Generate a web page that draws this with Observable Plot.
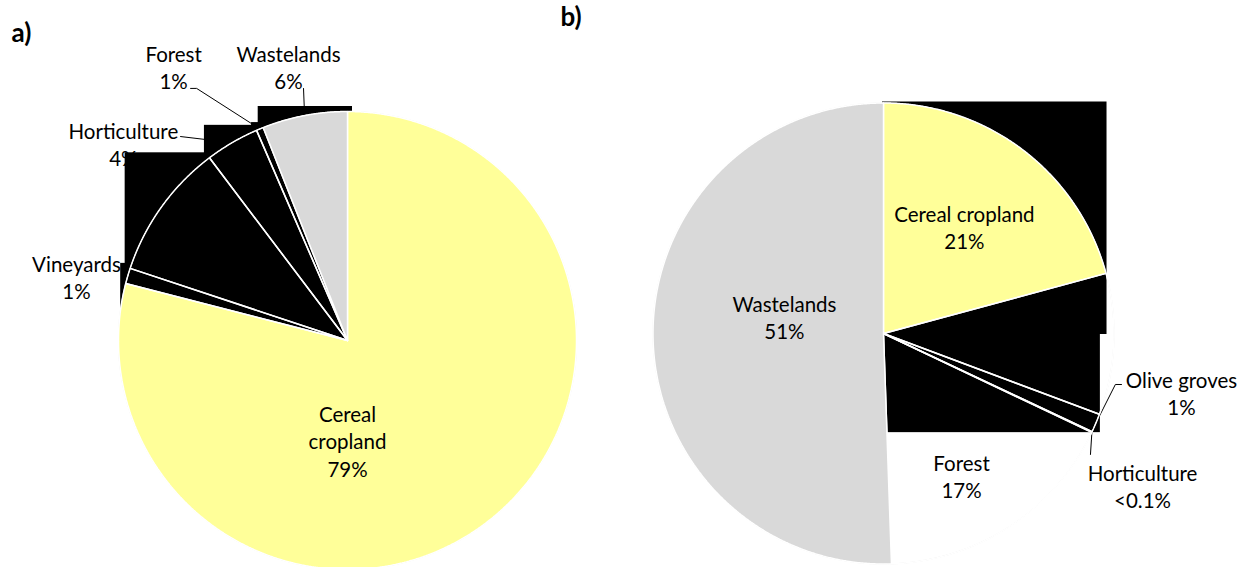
<!DOCTYPE html>
<html><head><meta charset="utf-8">
<script src="https://cdn.jsdelivr.net/npm/d3@7"></script>
<script src="https://cdn.jsdelivr.net/npm/@observablehq/plot@0.6"></script>
<style>
html,body{margin:0;padding:0;background:#fff;}
#wrap{position:relative;width:1250px;height:567px;overflow:hidden;font-family:Lato,sans-serif;}
#wrap svg{position:absolute;top:0;}
</style></head><body><div id="wrap"></div>
<script>
// ---- data ----
const categories = ["Cereal cropland","Vineyards","Olive groves","Horticulture","Forest","Wastelands"];
const sharesA = [79, 1.1, 9.6, 3.8, 0.5, 6.0];
const sharesB = [20.8, 9.9, 1.3, 0.05, 17.4, 50.55];
const labelsA = ["Cereal\ncropland\n79%","Vineyards\n1%","","Horticulture\n4%","Forest\n1%","Wastelands\n6%"];
const labelsB = ["Cereal cropland\n21%","","Olive groves\n1%","Horticulture\n<0.1%","Forest\n17%","Wastelands\n51%"];
const panelTitles = ["a)","b)"];

// ---- styling ----
const fillOf = {"Cereal cropland":"#ffff99","Wastelands":"#d9d9d9"};
const FONT = "Lato, 'Open Sans', sans-serif";
const FS = 20.5;

const rad = d => d*Math.PI/180;
const polar = (deg, r) => ({x: r*Math.sin(rad(deg)), y: r*Math.cos(rad(deg))});

function buildSlices(shares, labels){
  const total = d3.sum(shares);
  let acc = 0;
  return categories.map((c,i)=>{
    const a0 = acc/total*2*Math.PI; acc += shares[i]; const a1 = acc/total*2*Math.PI;
    const pts = [{x:0,y:0}];
    const n = Math.max(2, Math.ceil((a1-a0)/(Math.PI/720)));
    for(let k=0;k<=n;k++){const a=a0+(a1-a0)*k/n; pts.push({x:Math.sin(a),y:Math.cos(a)});}
    pts.push({x:0,y:0});
    return {cat:c, a0, a1, midDeg:(a0+a1)/2*180/Math.PI, label:labels[i], pts};
  });
}
function bbox(s){
  return {x1:d3.min(s.pts,p=>p.x), x2:d3.max(s.pts,p=>p.x), y1:d3.min(s.pts,p=>p.y), y2:d3.max(s.pts,p=>p.y)};
}

function drawPie(cfg){
  const slices = buildSlices(cfg.shares, cfg.labels);
  const byCat = new Map(slices.map(s=>[s.cat,s]));
  const circle = d3.range(0,361).map(d=>polar(d,1));
  const labelData = cfg.labelPos.map(([cat,deg,r])=>({...polar(deg,r), text: byCat.get(cat).label, inner: r<1}));
  const leaderMarks = cfg.leaders.map(([cat, ...pts])=>{
    const s = byCat.get(cat);
    const line = pts.map(([deg,r])=>polar(deg,r)).concat([polar(s.midDeg,1)]);
    return Plot.line(line,{x:"x",y:"y",stroke:"black",strokeWidth:1});
  });
  const boxes = cfg.masks.map(c=>bbox(byCat.get(c)));
  const W = cfg.width, H = 567, r = cfg.r;
  const chart = Plot.plot({
    width: W, height: H, margin: 0,
    x: {domain: [-cfg.cx/r, (W-cfg.cx)/r], axis: null},
    y: {domain: [-(H-cfg.cy)/r, cfg.cy/r], axis: null},
    style: {fontFamily: FONT, background: "transparent", overflow: "visible"},
    marks: [
      ...leaderMarks,
      Plot.text(labelData.filter(d=>!d.inner),{x:"x",y:"y",text:"text",fontSize:FS,lineHeight:1.34,fill:"black",textAnchor:"middle",lineAnchor:"middle",fontFamily:FONT}),
      Plot.rect(boxes,{x1:"x1",x2:"x2",y1:"y1",y2:"y2",fill:"black",inset:-cfg.pad}),
      Plot.line(circle,{x:"x",y:"y",stroke:"#e4e4e4",strokeWidth:1}),
      ...slices.map(s=>Plot.line(s.pts,{x:"x",y:"y",fill:fillOf[s.cat]||"none",stroke:"white",strokeWidth:1.5,strokeLinejoin:"miter"})),
      Plot.text(labelData.filter(d=>d.inner),{x:"x",y:"y",text:"text",fontSize:FS,lineHeight:1.34,fill:"black",textAnchor:"middle",lineAnchor:"middle",fontFamily:FONT}),
      Plot.text([cfg.title],{frameAnchor:"top-left",text:d=>d,dx:cfg.tdx,dy:cfg.tdy,fontSize:26,fontWeight:"bold",lineAnchor:"top",fill:"black",fontFamily:FONT})
    ]
  });
  chart.style.left = cfg.left + "px";
  document.getElementById("wrap").appendChild(chart);
}

drawPie({
  shares: sharesA, labels: labelsA, title: panelTitles[0],
  left: 0, width: 560, cx: 347, cy: 340, r: 229, pad: 5, tdx: 11, tdy: 23,
  masks: ["Vineyards","Olive groves","Horticulture","Forest","Wastelands"],
  labelPos: [["Cereal cropland",180,0.437],["Vineyards",283.3,1.216],["Horticulture",311.3,1.303],["Forest",327.6,1.417],["Wastelands",347.85,1.224]],
  leaders: [["Horticulture",[320.7,1.151]],["Forest",[328.1,1.2966],[329.1,1.283]],["Wastelands",[350.1,1.117]]]
});
drawPie({
  shares: sharesB, labels: labelsB, title: panelTitles[1],
  left: 560, width: 690, cx: 323, cy: 333, r: 230.5, pad: 1, tdx: 0, tdy: 7,
  masks: ["Cereal cropland","Olive groves"],
  labelPos: [["Cereal cropland",37.1,0.582],["Olive groves",101.2,1.318],["Horticulture",120.4,1.303],["Forest",151.2,0.703],["Wastelands",279.7,0.436]],
  leaders: [["Olive groves",[102.1,1.056],[102.4,1.030]],["Horticulture",[120.3,1.040]]]
});
</script>
</body></html>
